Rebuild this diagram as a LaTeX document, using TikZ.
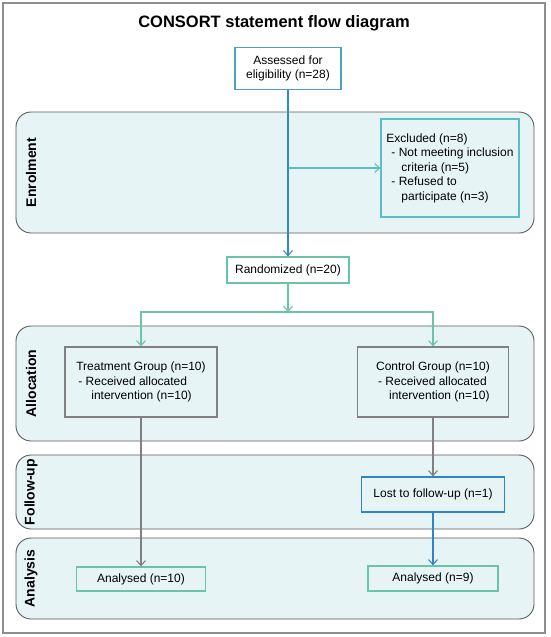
\documentclass[tikz,border=0pt]{standalone}
\usepackage{fontspec}
\setmainfont{Liberation Sans}
\usetikzlibrary{arrows.meta}
\definecolor{bandfill}{HTML}{E6F4F6}
\definecolor{bandline}{HTML}{5A5A5A}
\definecolor{framecol}{HTML}{8E8E8E}
\definecolor{blueA}{HTML}{4AA2C2}
\definecolor{blueB}{HTML}{2B8CBE}
\definecolor{cyanC}{HTML}{5BBDCA}
\definecolor{greenD}{HTML}{6CC4A8}
\definecolor{grayE}{HTML}{808080}
\definecolor{blueF}{HTML}{2E86C8}
\begin{document}
\begin{tikzpicture}[x=1pt,y=-1pt,
  font=\fontsize{12}{14.5}\selectfont,
  band/.style={draw=bandline, fill=bandfill, rounded corners=15pt, line width=0.9pt},
  bandlabel/.style={rotate=90, font=\fontsize{14}{16}\selectfont\bfseries},
  box/.style={draw, line width=1.3pt, inner sep=0pt, align=left},
  arr/.style={line width=1.1pt, -{Straight Barb[length=5pt,width=9pt,line width=1.1pt]}},
]
\useasboundingbox (0,0) rectangle (550,637);
\draw[framecol, line width=1.3pt] (3,3) rectangle (545,633);
\node[font=\fontsize{16.5}{18}\selectfont\bfseries] (title) at (274,23.5) {CONSORT statement flow diagram};

% bands
\draw[band] (16,112) rectangle (534,233);
\draw[band] (16,326) rectangle (534,441);
\draw[band] (16,455) rectangle (534,529);
\draw[band] (16,538) rectangle (534,619);
\node[bandlabel] (labenrol) at (31,172.5) {Enrolment};
\node[bandlabel] (laballoc) at (31,383.5) {Allocation};
\node[bandlabel] (labfollow) at (31,492) {Follow-up};
\node[bandlabel] (labanal) at (31,578.5) {Analysis};

% nodes
\node[box, draw=blueA, fill=white, minimum width=106pt, minimum height=42pt, align=center] (assess) at (288,68.5) {Assessed for\\eligibility (n=28)};
\node[box, draw=cyanC, fill=bandfill, minimum width=138pt, minimum height=98pt] (excl) at (450,168)
  {Excluded (n=8)\\\hspace*{5pt}- Not meeting inclusion\\\hspace*{15pt}criteria (n=5)\\\hspace*{5pt}- Refused to\\\hspace*{15pt}participate (n=3)};
\node[box, draw=greenD, fill=white, minimum width=122pt, minimum height=26pt, align=center] (rand) at (288,270) {Randomized (n=20)};
\node[box, draw=grayE, fill=bandfill, minimum width=152pt, minimum height=70pt] (treat) at (141,382)
  {Treatment Group (n=10)\\\hspace*{2pt}- Received allocated\\\hspace*{15pt}intervention (n=10)};
\node[box, draw=grayE, fill=bandfill, minimum width=151pt, minimum height=70pt] (ctrl) at (433,382)
  {Control Group (n=10)\\\hspace*{2pt}- Received allocated\\\hspace*{13pt}intervention (n=10)};
\node[box, draw=blueF, fill=bandfill, minimum width=143pt, minimum height=35pt, align=center] (lost) at (433,494.5) {Lost to follow-up (n=1)};
\node[box, draw=greenD, fill=bandfill, minimum width=129pt, minimum height=24pt, align=center] (anl) at (141,579) {Analysed (n=10)};
\node[box, draw=greenD, fill=bandfill, minimum width=130pt, minimum height=25pt, align=center] (anr) at (433,578.5) {Analysed (n=9)};

% connectors
\coordinate (excbranch) at (288,168);
\coordinate (split) at (288,312);
\draw[cyanC, arr] (excbranch) -- (excl.west);
\draw[blueB, arr, line width=1.3pt] (assess.south) -- (rand.north);
\draw[greenD, arr] (rand.south) -- (split);
\draw[greenD, arr] (split) -| (treat.north);
\draw[greenD, arr] (split) -| (ctrl.north);
\draw[grayE, arr] (treat.south) -- (treat.south |- anl.north);
\draw[grayE, arr] (ctrl.south) -- (lost.north);
\draw[blueF, arr] (lost.south) -- (anr.north);
\end{tikzpicture}
\end{document}
